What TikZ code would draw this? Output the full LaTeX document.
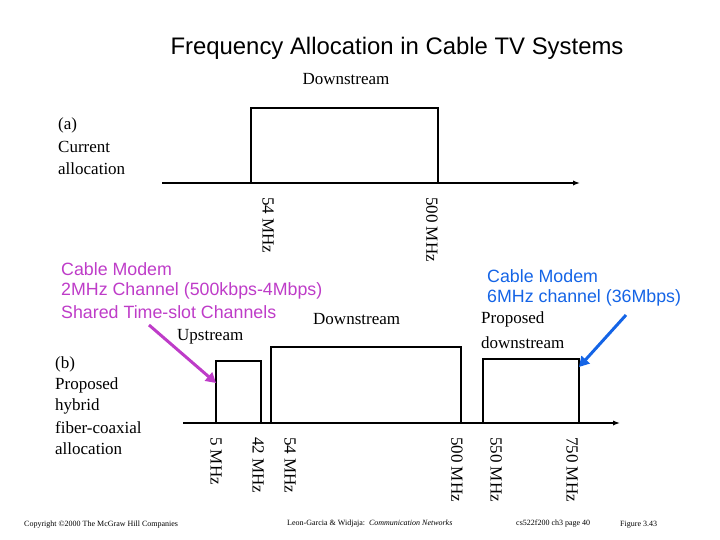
\documentclass[tikz,border=0pt]{standalone}
\usepackage{fontspec}
\setmainfont{Liberation Serif}
\setsansfont{Liberation Sans}
\usetikzlibrary{arrows.meta}
\definecolor{modempurple}{RGB}{190,60,200}
\definecolor{modemblue}{RGB}{20,100,230}
\tikzset{
  band/.style={draw,line width=1.5pt},
  axis/.style={line width=1.5pt,-{Latex[length=7pt]}},
  freq/.style={rotate=-90,anchor=north west,font=\fontsize{17}{17}\selectfont,inner sep=0pt},
  serif/.style={anchor=west,font=\fontsize{17}{17}\selectfont,inner sep=0pt},
  sans/.style={anchor=west,font=\sffamily\fontsize{17.8}{17.8}\selectfont,inner sep=0pt},
  foot/.style={anchor=west,font=\fontsize{8}{8}\selectfont,inner sep=0pt},
  pointer/.style={line width=3pt,-{Triangle[length=10pt,width=11pt]}}
}
\begin{document}
\begin{tikzpicture}[x=1pt,y=-1pt]
\useasboundingbox (0,0) rectangle (720,540);
\node (title) at (397,48) {\sffamily\fontsize{23.9}{23.9}\selectfont Frequency Allocation in Cable TV Systems};
\node (down) at (346,79) {\fontsize{17}{17}\selectfont Downstream};
% (a) current
\node[serif] (a1) at (58,125) {(a)};
\node[serif] (a2) at (58,147) {Current};
\node[serif] (a3) at (58,169) {allocation};
\coordinate (a start) at (162,183);
\coordinate (a end) at (580,183);
\draw[axis] (a start) -- (a end);
\draw[band] (251,183) rectangle (438,108);
\node[freq] (fa1) at (274,197) {54 MHz};
\node[freq] (fa2) at (438,197) {500 MHz};
% (b) proposed
\node[serif] (b1) at (55,364) {(b)};
\node[serif] (b2) at (55,385) {Proposed};
\node[serif] (b3) at (55,406) {hybrid};
\node[serif] (b4) at (55,428) {fiber-coaxial};
\node[serif] (b5) at (55,449) {allocation};
\coordinate (b start) at (183,423);
\coordinate (b end) at (620,423);
\draw[axis] (b start) -- (b end);
\draw[band] (216,423) rectangle (261,361);
\draw[band] (271,423) rectangle (461,347);
\draw[band] (483,423) rectangle (579,359);
\node[freq] (fb1) at (222,437) {5 MHz};
\node[freq] (fb2) at (264,437) {42 MHz};
\node[freq] (fb3) at (296,437) {54 MHz};
\node[freq] (fb4) at (463,437) {500 MHz};
\node[freq] (fb5) at (502,437) {550 MHz};
\node[freq] (fb6) at (578,437) {750 MHz};
\node[serif] (up) at (177,337) {Upstream};
\node[serif] (downb) at (313,319) {Downstream};
\node[serif] (prop1) at (481,319) {Proposed};
\node[serif] (prop2) at (481,343) {downstream};
\node[sans,text=modempurple] (cm1) at (61,269) {Cable Modem};
\node[sans,text=modempurple] (cm2) at (61,291) {2MHz Channel (500kbps-4Mbps)};
\node[sans,text=modempurple] (cm3) at (61,312) {Shared Time-slot Channels};
\node[sans,text=modemblue] (cb1) at (487,276) {Cable Modem};
\node[sans,text=modemblue] (cb2) at (487,298) {6MHz channel (36Mbps)};
\coordinate (up tip) at (216,383);
\coordinate (prop tip) at (579,367);
\draw[pointer,modempurple] (149,325) -- (up tip);
\draw[pointer,modemblue] (626,315) -- (prop tip);
% footer
\node[foot] (copy) at (24,525) {Copyright \textcopyright 2000 The McGraw Hill Companies};
\node[foot] (book) at (287,524) {Leon-Garcia \& Widjaja:\ \ \textit{Communication Networks}};
\node[foot] (page) at (516,524) {cs522f200 ch3 page 40};
\node[foot] (fig) at (620,525) {Figure 3.43};
\end{tikzpicture}
\end{document}
